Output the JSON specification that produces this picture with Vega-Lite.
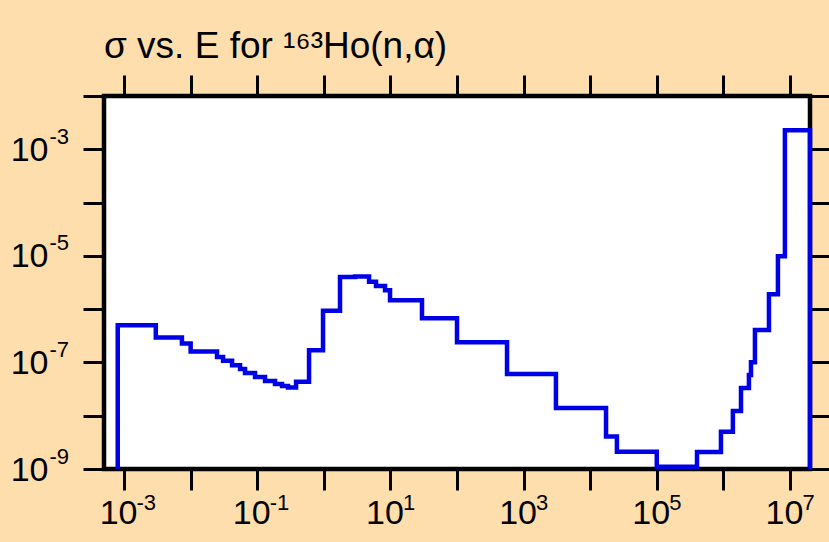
{
  "$schema": "https://vega.github.io/schema/vega-lite/v6.json",
  "width": 706,
  "height": 373,
  "autosize": "none",
  "padding": {"left": 104, "top": 96, "right": 19, "bottom": 73},
  "background": "#FFDEAD",
  "config": {
    "view": {"fill": "white", "stroke": "black", "strokeWidth": 4.5},
    "font": "Liberation Sans",
    "axis": {"labelFont": "Liberation Sans", "labelColor": "black", "tickColor": "black", "grid": false, "domain": false, "labelOverlap": false, "labelFlush": false, "labelBound": false, "title": null}
  },
  "title": {
    "text": "σ vs. E for ¹⁶³Ho(n,α)",
    "anchor": "start",
    "frame": "group",
    "font": "Liberation Sans",
    "fontSize": 37,
    "fontWeight": "normal",
    "color": "black",
    "baseline": "alphabetic",
    "offset": -23
  },
  "data": {
    "values": [
      {"E": 0.000804, "sigma": 1e-9},
      {"E": 0.000804, "sigma": 5.0e-7},
      {"E": 0.0030, "sigma": 2.94e-7},
      {"E": 0.0074, "sigma": 2.27e-7},
      {"E": 0.0100, "sigma": 1.6e-7},
      {"E": 0.0249, "sigma": 1.27e-7},
      {"E": 0.0307, "sigma": 1.07e-7},
      {"E": 0.0419, "sigma": 8.9e-8},
      {"E": 0.0552, "sigma": 7.5e-8},
      {"E": 0.0656, "sigma": 6.3e-8},
      {"E": 0.0927, "sigma": 5.3e-8},
      {"E": 0.131, "sigma": 4.47e-8},
      {"E": 0.185, "sigma": 3.92e-8},
      {"E": 0.236, "sigma": 3.6e-8},
      {"E": 0.290, "sigma": 3.37e-8},
      {"E": 0.383, "sigma": 4.33e-8},
      {"E": 0.600, "sigma": 1.70e-7},
      {"E": 0.973, "sigma": 9.3e-7},
      {"E": 1.75, "sigma": 4.03e-6},
      {"E": 2.94, "sigma": 4.1e-6},
      {"E": 4.78, "sigma": 3.25e-6},
      {"E": 6.08, "sigma": 2.73e-6},
      {"E": 8.30, "sigma": 2.27e-6},
      {"E": 9.87, "sigma": 1.47e-6},
      {"E": 29.8, "sigma": 6.78e-7},
      {"E": 100, "sigma": 2.4e-7},
      {"E": 564, "sigma": 6.04e-8},
      {"E": 3060, "sigma": 1.39e-8},
      {"E": 17300, "sigma": 4.07e-9},
      {"E": 25200, "sigma": 2.11e-9},
      {"E": 100000, "sigma": 1.1e-9},
      {"E": 402000, "sigma": 2.08e-9},
      {"E": 920000, "sigma": 5.0e-9},
      {"E": 1390000, "sigma": 1.22e-8},
      {"E": 1840000, "sigma": 3.3e-8},
      {"E": 2420000, "sigma": 5.78e-8},
      {"E": 2600000, "sigma": 1.01e-7},
      {"E": 2980000, "sigma": 4.04e-7},
      {"E": 4840000, "sigma": 1.91e-6},
      {"E": 6600000, "sigma": 9.86e-6},
      {"E": 8400000, "sigma": 2.27e-3},
      {"E": 20000000, "sigma": 2.27e-3},
      {"E": 20000000, "sigma": 1e-9}
    ]
  },
  "encoding": {
    "x": {"field": "E", "type": "quantitative", "sort": null, "scale": {"type": "log", "domain": [0.0005, 20000000], "nice": false}},
    "y": {"field": "sigma", "type": "quantitative", "scale": {"type": "log", "domain": [1e-9, 0.01], "nice": false}}
  },
  "layer": [
    {
      "mark": {"type": "line", "opacity": 0},
      "encoding": {
        "x": {"field": "E", "type": "quantitative", "sort": null, "axis": {"orient": "top", "values": [0.001, 0.01, 0.1, 1, 10, 100, 1000, 10000, 100000, 1000000, 10000000], "labels": false, "tickSize": 21, "tickWidth": 3}},
        "y": {"field": "sigma", "type": "quantitative", "axis": {"orient": "right", "values": [1e-9, 1e-8, 1e-7, 1e-6, 1e-5, 1e-4, 1e-3, 1e-2], "labels": false, "tickSize": 21, "tickWidth": 3}}
      }
    },
    {
      "mark": {"type": "line", "opacity": 0},
      "encoding": {
        "x": {"field": "E", "type": "quantitative", "sort": null, "axis": {"orient": "bottom", "values": [0.001, 0.01, 0.1, 1, 10, 100, 1000, 10000, 100000, 1000000, 10000000], "tickSize": 21, "tickOpacity": 0, "labelExpr": "(round(log(datum.value)/LN10) % 2 != 0) ? ('' + round(log(datum.value)/LN10)) : ''", "labelFontSize": 22, "labelAlign": "left", "labelBaseline": "top", "labelOffset": 12, "labelPadding": 2}},
        "y": {"field": "sigma", "type": "quantitative", "axis": {"orient": "left", "values": [1e-9, 1e-8, 1e-7, 1e-6, 1e-5, 1e-4, 1e-3, 1e-2], "tickSize": 21, "tickOpacity": 0, "labelExpr": "(round(log(datum.value)/LN10) % 2 != 0) ? ('' + round(log(datum.value)/LN10)) : ''", "labelFontSize": 22, "labelAlign": "left", "labelBaseline": "middle", "labelOffset": -13, "labelPadding": 34}}
      }
    },
    {
      "mark": {"type": "line", "interpolate": "step-after", "color": "#0000E6", "strokeWidth": 4.5, "strokeJoin": "miter", "strokeCap": "butt"},
      "encoding": {
        "x": {"field": "E", "type": "quantitative", "sort": null, "axis": {"orient": "bottom", "values": [0.001, 0.01, 0.1, 1, 10, 100, 1000, 10000, 100000, 1000000, 10000000], "tickSize": 21, "tickWidth": 3, "labelExpr": "(round(log(datum.value)/LN10) % 2 != 0) ? '10' : ''", "labelFontSize": 34, "labelAlign": "center", "labelBaseline": "top", "labelOffset": -6, "labelPadding": 6}},
        "y": {"field": "sigma", "type": "quantitative", "axis": {"orient": "left", "values": [1e-9, 1e-8, 1e-7, 1e-6, 1e-5, 1e-4, 1e-3, 1e-2], "tickSize": 21, "tickWidth": 3, "labelExpr": "(round(log(datum.value)/LN10) % 2 != 0) ? '10' : ''", "labelFontSize": 34, "labelAlign": "right", "labelBaseline": "middle", "labelOffset": 1, "labelPadding": 35}}
      }
    }
  ],
  "resolve": {"axis": {"x": "independent", "y": "independent"}}
}
